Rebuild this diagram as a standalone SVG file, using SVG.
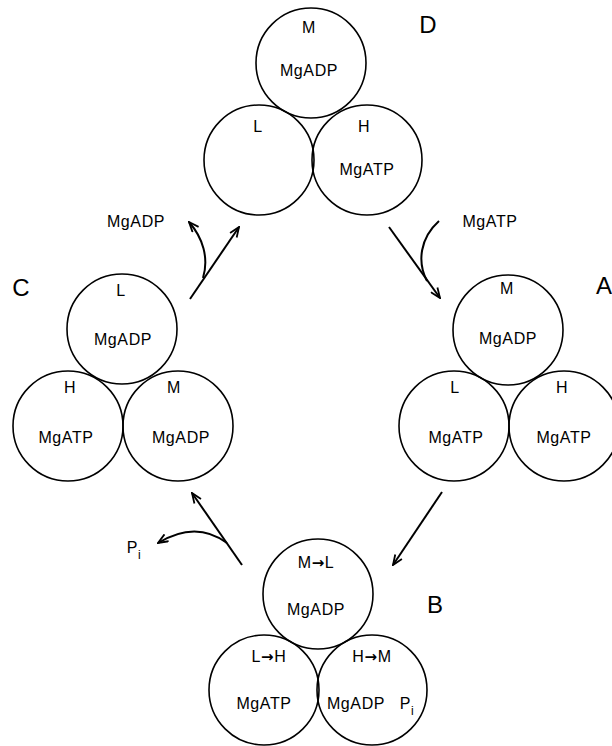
<svg xmlns="http://www.w3.org/2000/svg" width="612" height="746" viewBox="0 0 612 746">
<style>
.c{fill:none;stroke:#000;stroke-width:1.6}
.t{font-family:"Liberation Sans",Arial,sans-serif;font-size:16px;fill:#000;text-anchor:middle;letter-spacing:0.6px}
.big{font-family:"Liberation Sans",Arial,sans-serif;font-size:24px;fill:#000;text-anchor:middle}
.ln{fill:none;stroke:#000;stroke-width:2}
.sub{font-size:12px}
.ar{font-family:"DejaVu Sans",sans-serif;font-size:15px;font-weight:bold}
</style>
<defs>
<marker id="ah" viewBox="0 0 12 10" refX="11" refY="5" markerWidth="12" markerHeight="10" orient="auto" markerUnits="userSpaceOnUse">
<path d="M1,1 L11,5 L1,9" fill="none" stroke="#000" stroke-width="1.8"/>
</marker>
</defs>
<rect width="612" height="746" fill="#fff"/>

<g id="stateD">
<circle class="c" cx="311" cy="63" r="55"/>
<circle class="c" cx="259" cy="160" r="55"/>
<circle class="c" cx="367" cy="160" r="55"/>
<text class="t" x="309" y="33">M</text>
<text class="t" x="309" y="76">MgADP</text>
<text class="t" x="258" y="132">L</text>
<text class="t" x="364" y="132">H</text>
<text class="t" x="367" y="175">MgATP</text>
<text class="big" x="428" y="33">D</text>
</g>

<g id="stateA">
<circle class="c" cx="508" cy="330" r="55"/>
<circle class="c" cx="454" cy="426" r="55"/>
<circle class="c" cx="564" cy="426" r="55"/>
<text class="t" x="507" y="294">M</text>
<text class="t" x="508" y="344">MgADP</text>
<text class="t" x="455" y="393">L</text>
<text class="t" x="562" y="393">H</text>
<text class="t" x="456" y="443">MgATP</text>
<text class="t" x="564" y="443">MgATP</text>
<text class="big" x="604" y="294">A</text>
</g>

<g id="stateB">
<circle class="c" cx="318" cy="594" r="55"/>
<circle class="c" cx="264" cy="690" r="55"/>
<circle class="c" cx="372" cy="690" r="55"/>
<text class="t" x="316" y="568">M<tspan class="ar">→</tspan>L</text>
<text class="t" x="316" y="615">MgADP</text>
<text class="t" x="269" y="662">L<tspan class="ar">→</tspan>H</text>
<text class="t" x="372" y="662">H<tspan class="ar">→</tspan>M</text>
<text class="t" x="264" y="709">MgATP</text>
<text class="t" x="356" y="709">MgADP</text>
<text class="t" x="407" y="709">P<tspan class="sub" dy="6">i</tspan></text>
<text class="big" x="435" y="613">B</text>
</g>

<g id="stateC">
<circle class="c" cx="122" cy="329" r="55"/>
<circle class="c" cx="68" cy="426" r="55"/>
<circle class="c" cx="178" cy="426" r="55"/>
<text class="t" x="121" y="296">L</text>
<text class="t" x="123" y="345">MgADP</text>
<text class="t" x="70" y="393">H</text>
<text class="t" x="174" y="393">M</text>
<text class="t" x="66" y="443">MgATP</text>
<text class="t" x="181" y="443">MgADP</text>
<text class="big" x="21" y="296">C</text>
</g>

<g id="connectors">
<line class="ln" x1="389" y1="227" x2="440" y2="298" marker-end="url(#ah)"/>
<path class="ln" d="M439,221 C420,238 417,262 427,281"/>
<text class="t" x="490" y="227">MgATP</text>
<line class="ln" x1="442" y1="492" x2="393" y2="565" marker-end="url(#ah)"/>
<line class="ln" x1="242" y1="565" x2="192" y2="493" marker-end="url(#ah)"/>
<path class="ln" d="M227,543 Q196,520 158,543" marker-end="url(#ah)"/>
<text class="t" x="134" y="553">P<tspan class="sub" dy="6">i</tspan></text>
<line class="ln" x1="190" y1="299" x2="239" y2="227" marker-end="url(#ah)"/>
<path class="ln" d="M203,278 C209,258 203,238 189,222" marker-end="url(#ah)"/>
<text class="t" x="136" y="227">MgADP</text>
</g>
</svg>
